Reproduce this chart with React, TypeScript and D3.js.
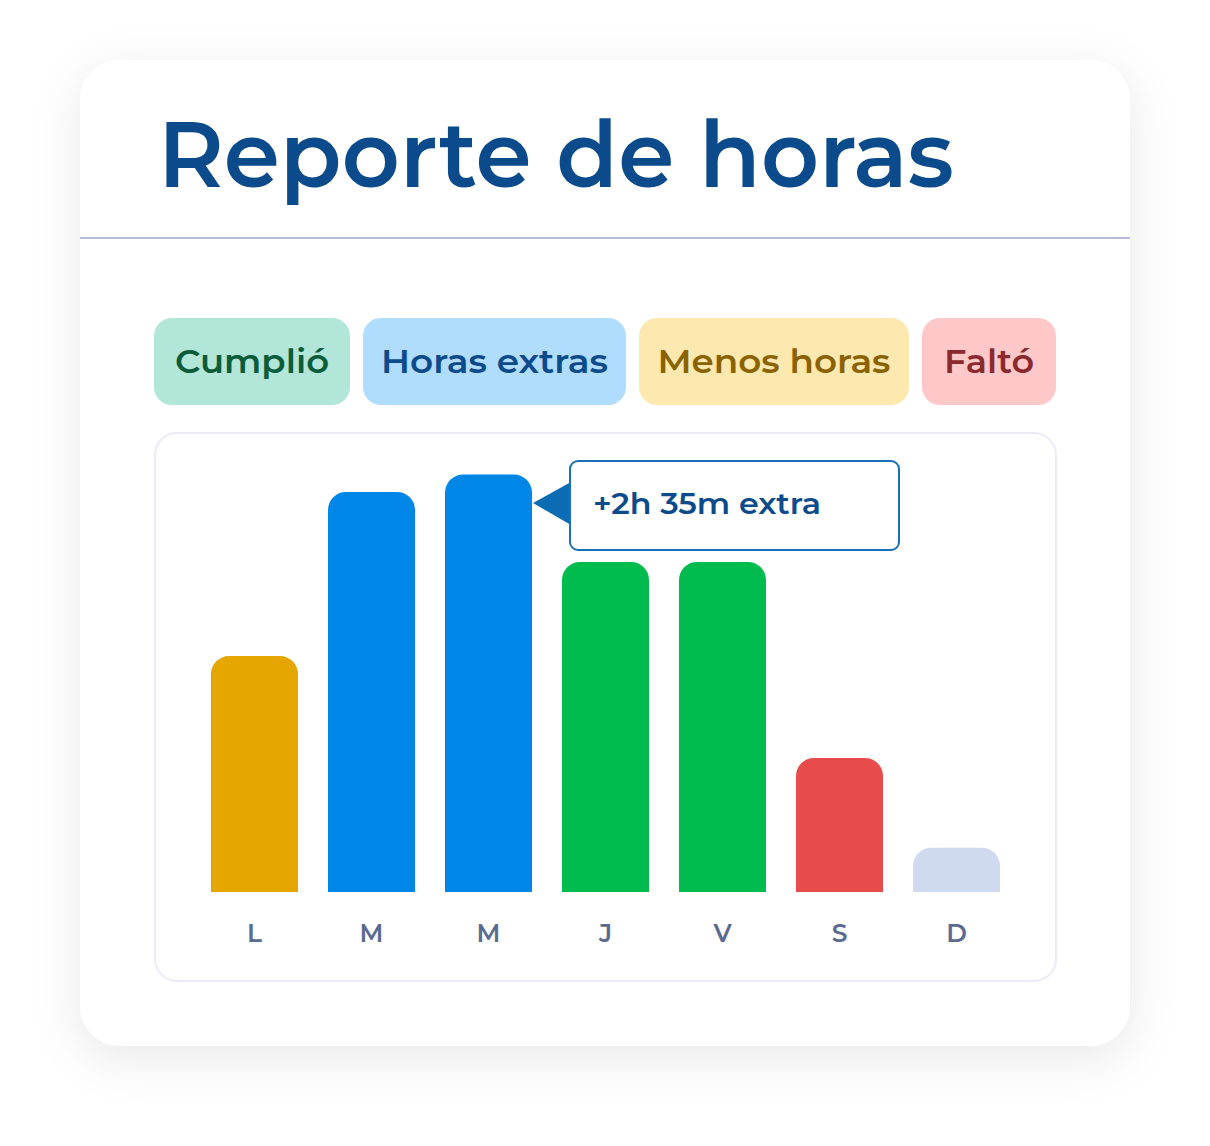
import React from "react"
import * as d3 from "d3"

// data
const days = ["L", "M", "M", "J", "V", "S", "D"]
const hours = [5.72, 9.7, 10.12, 8, 8, 3.25, 1.07]
const status = ["menos", "extra", "extra", "cumplio", "cumplio", "falto", "libre"]

const legendLabels = ["Cumplió", "Horas extras", "Menos horas", "Faltó"]
const legendKeys = ["cumplio", "extra", "menos", "falto"]

const tooltipDay = 2
const tooltipText = "+2h 35m extra"

const barColor: Record<string, string> = {
  cumplio: "#00bc4f",
  extra: "#0086e6",
  menos: "#e6a600",
  falto: "#e84b4b",
  libre: "#cfd9f0",
}
const chipBg: Record<string, string> = {
  cumplio: "#b2e6d8",
  extra: "#b0dcfd",
  menos: "#fde8b0",
  falto: "#ffc8c8",
}
const chipFg: Record<string, string> = {
  cumplio: "#0a5c3a",
  extra: "#0b4a8b",
  menos: "#8a6200",
  falto: "#8b2a2e",
}

const FONT = "Montserrat, Inter, 'Noto Sans', sans-serif"

function topRounded(x: number, y: number, w: number, h: number, r: number) {
  const rr = Math.min(r, h, w / 2)
  const p = d3.path()
  p.moveTo(x, y + h)
  p.lineTo(x, y + rr)
  p.arcTo(x, y, x + rr, y, rr)
  p.lineTo(x + w - rr, y)
  p.arcTo(x + w, y, x + w, y + rr, rr)
  p.lineTo(x + w, y + h)
  p.closePath()
  return p.toString()
}

export default function App() {
  const width = 1210
  const height = 1146

  const x = d3
    .scaleBand<number>()
    .domain(d3.range(days.length))
    .range([196, 1015])
    .paddingInner(30 / 117)
    .paddingOuter(15 / 117)

  const baseline = 892
  const y = d3.scaleLinear().domain([0, 8]).range([baseline, 562])

  // legend chips
  const chipX = [154, 363, 639, 922]
  const chipW = [196, 263, 270, 134]
  const chipTextW = [154, 227, 233, 90]

  const tipBarX = (x(tooltipDay) ?? 0) + x.bandwidth()
  const tipY = 503

  return (
    <div style={{ position: "absolute", left: 0, top: 0 }}>
      <svg width={width} height={height} style={{ display: "block" }}>
        <defs>
          <filter id="cardShadow" x="-20%" y="-20%" width="140%" height="140%">
            <feDropShadow dx="0" dy="12" stdDeviation="24" floodColor="#000" floodOpacity="0.09" />
          </filter>
        </defs>
        <rect width={width} height={height} fill="#ffffff" />

        {/* card */}
        <rect x={80} y={60} width={1050} height={986} rx={40} fill="#fff" filter="url(#cardShadow)" />

        <text
          x={158}
          y={187}
          fontFamily={FONT}
          fontSize={92}
          fontWeight={600}
          fill="#0b4a8b"
          textLength={796}
          lengthAdjust="spacingAndGlyphs"
        >
          Reporte de horas
        </text>
        <line x1={80} x2={1130} y1={238} y2={238} stroke="#b3bedb" strokeWidth={2} />

        {/* legend */}
        {legendLabels.map((lab, i) => (
          <g key={lab}>
            <rect x={chipX[i]} y={318} width={chipW[i]} height={87} rx={18} fill={chipBg[legendKeys[i]]} />
            <text
              x={chipX[i] + chipW[i] / 2}
              y={373}
              textAnchor="middle"
              fontFamily={FONT}
              fontSize={34}
              fontWeight={600}
              fill={chipFg[legendKeys[i]]}
              textLength={chipTextW[i]}
              lengthAdjust="spacingAndGlyphs"
            >
              {lab}
            </text>
          </g>
        ))}

        {/* chart panel */}
        <rect x={155} y={433} width={901} height={548} rx={22} fill="#fff" stroke="#ebebfa" strokeWidth={2} />

        {hours.map((v, i) => (
          <path
            key={i}
            d={topRounded(x(i) ?? 0, y(v), x.bandwidth(), baseline - y(v), 18)}
            fill={barColor[status[i]]}
          />
        ))}

        {days.map((d, i) => (
          <text
            key={i}
            x={(x(i) ?? 0) + x.bandwidth() / 2}
            y={942}
            textAnchor="middle"
            fontFamily={FONT}
            fontSize={25}
            fontWeight={600}
            fill="#5a6a90"
          >
            {d}
          </text>
        ))}

        {/* tooltip */}
        <path
          d={`M${tipBarX + 1},${tipY} L${tipBarX + 39},${tipY - 21} L${tipBarX + 39},${tipY + 22} Z`}
          fill="#0b6cb3"
        />
        <rect x={570} y={461} width={329} height={89} rx={8} fill="#fff" stroke="#1a70b8" strokeWidth={2} />
        <text
          x={593}
          y={514}
          fontFamily={FONT}
          fontSize={30}
          fontWeight={600}
          fill="#0b4a8b"
          textLength={228}
          lengthAdjust="spacingAndGlyphs"
        >
          {tooltipText}
        </text>
      </svg>
    </div>
  )
}
